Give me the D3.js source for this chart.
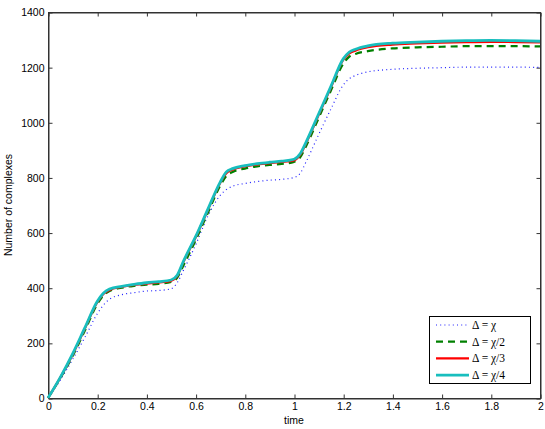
<!DOCTYPE html>
<html><head><meta charset="utf-8">
<script src="https://cdn.jsdelivr.net/npm/d3@7"></script>
<style>body{margin:0;background:#fff}svg{display:block}</style>
</head><body>
<script>
const times   = [0,0.05,0.1,0.15,0.2,0.225,0.25,0.3,0.35,0.4,0.45,0.5,0.525,0.55,0.6,0.65,0.7,0.725,0.75,0.8,0.85,0.9,0.95,1.0,1.025,1.05,1.1,1.15,1.2,1.225,1.25,1.3,1.4,1.5,1.6,1.7,1.8,1.9,2.0];
const deltaChi  = [0,65,140,220,305,337,358,375,382,388,390,396,418,462,555,660,735,756,768,778,785,790,793,800,815,858,955,1048,1135,1158,1170,1183,1192,1196,1198,1200,1200,1200,1199];
const deltaChi2 = [0,72,152,245,340,372,388,400,407,411,414,421,436,480,572,672,770,805,820,832,840,845,849,856,873,915,1015,1115,1212,1238,1248,1258,1268,1272,1274,1276,1276,1276,1275];
const deltaChi3 = [0,74,157,252,347,377,392,403,410,415,419,425,442,492,582,682,780,815,828,840,847,852,856,862,882,926,1026,1126,1226,1250,1260,1272,1282,1286,1289,1291,1292,1291,1290];
const deltaChi4 = [0,75,160,255,350,380,395,405,412,418,422,428,445,495,585,685,783,820,832,843,850,855,859,866,886,930,1030,1130,1230,1255,1265,1277,1287,1291,1294,1296,1297,1296,1294];
const xTicks = [0,0.2,0.4,0.6,0.8,1,1.2,1.4,1.6,1.8,2];
const yTicks = [0,200,400,600,800,1000,1200,1400];
const legendNames = ["χ","χ/2","χ/3","χ/4"];

const W=545,H=429;
const svg=d3.select("body").append("svg").attr("width",W).attr("height",H);
const L=48,R=540,T=12,B=398;
const x=d3.scaleLinear().domain([0,2]).range([L,R]);
const y=d3.scaleLinear().domain([0,1400]).range([B,T]);
const font="Liberation Sans, Arial, Helvetica, sans-serif";
const fmt=d=>String(d);

const axCol="#333";
svg.append("rect").attr("x",L+0.5).attr("y",T+0.5).attr("width",R-L).attr("height",B-T)
  .attr("fill","none").attr("stroke",axCol).attr("stroke-width",1);

const xb=svg.append("g").attr("transform",`translate(0.5,${B+0.5})`)
  .call(d3.axisBottom(x).tickValues(xTicks).tickSizeInner(-4).tickSizeOuter(0).tickPadding(5).tickFormat(fmt));
const xt=svg.append("g").attr("transform",`translate(0.5,${T+0.5})`)
  .call(d3.axisTop(x).tickValues(xTicks).tickSizeInner(-4).tickSizeOuter(0).tickFormat(""));
const yl=svg.append("g").attr("transform",`translate(${L+0.5},0.5)`)
  .call(d3.axisLeft(y).tickValues(yTicks).tickSizeInner(-4).tickSizeOuter(0).tickPadding(4).tickFormat(fmt));
const yr=svg.append("g").attr("transform",`translate(${R+0.5},0.5)`)
  .call(d3.axisRight(y).tickValues(yTicks).tickSizeInner(-4).tickSizeOuter(0).tickFormat(""));
[xb,xt,yl,yr].forEach(g=>{
  g.select(".domain").attr("stroke",axCol);
  g.selectAll(".tick line").attr("stroke",axCol);
  g.selectAll("text").attr("font-family",font).attr("font-size",10.5).attr("fill","#000");
});
xb.selectAll("text").attr("dy","0.6em");

svg.append("text").attr("x",(L+R)/2).attr("y",424).attr("text-anchor","middle")
  .attr("font-family",font).attr("font-size",10.5).text("time");
svg.append("text").attr("transform",`translate(12,${(T+B)/2}) rotate(-90)`).attr("text-anchor","middle")
  .attr("font-family",font).attr("font-size",10.5).text("Number of complexes");

const series=[
  {v:deltaChi, color:"#2020ff", w:1.2, dash:"1,3.2"},
  {v:deltaChi2,color:"#008000", w:2.2, dash:"7,5"},
  {v:deltaChi3,color:"#ff0000", w:2.2, dash:null},
  {v:deltaChi4,color:"#18bebe", w:2.8, dash:null}
];
const line=d3.line().x(d=>x(d[0])).y(d=>y(d[1])).curve(d3.curveMonotoneX);
series.forEach(s=>{
  svg.append("path").datum(times.map((t,i)=>[t,s.v[i]]))
    .attr("d",line).attr("fill","none").attr("stroke",s.color)
    .attr("stroke-width",s.w).attr("stroke-dasharray",s.dash)
    .attr("stroke-linejoin","round");
});

const lg=svg.append("g");
lg.append("rect").attr("x",429.5).attr("y",316.5).attr("width",101).attr("height",67)
  .attr("fill","#fff").attr("stroke","#000").attr("stroke-width",1);
series.forEach((s,i)=>{
  const yy=325+i*16.7;
  lg.append("line").attr("x1",436).attr("x2",469).attr("y1",yy).attr("y2",yy)
    .attr("stroke",s.color).attr("stroke-width",s.w).attr("stroke-dasharray",s.dash);
  const t=lg.append("text").attr("x",472).attr("y",yy+4).attr("font-family","Liberation Serif, DejaVu Serif, serif").attr("font-size",11.5);
  t.append("tspan").text("Δ = ");
  t.append("tspan").text(legendNames[i]);
});
</script>
</body></html>
